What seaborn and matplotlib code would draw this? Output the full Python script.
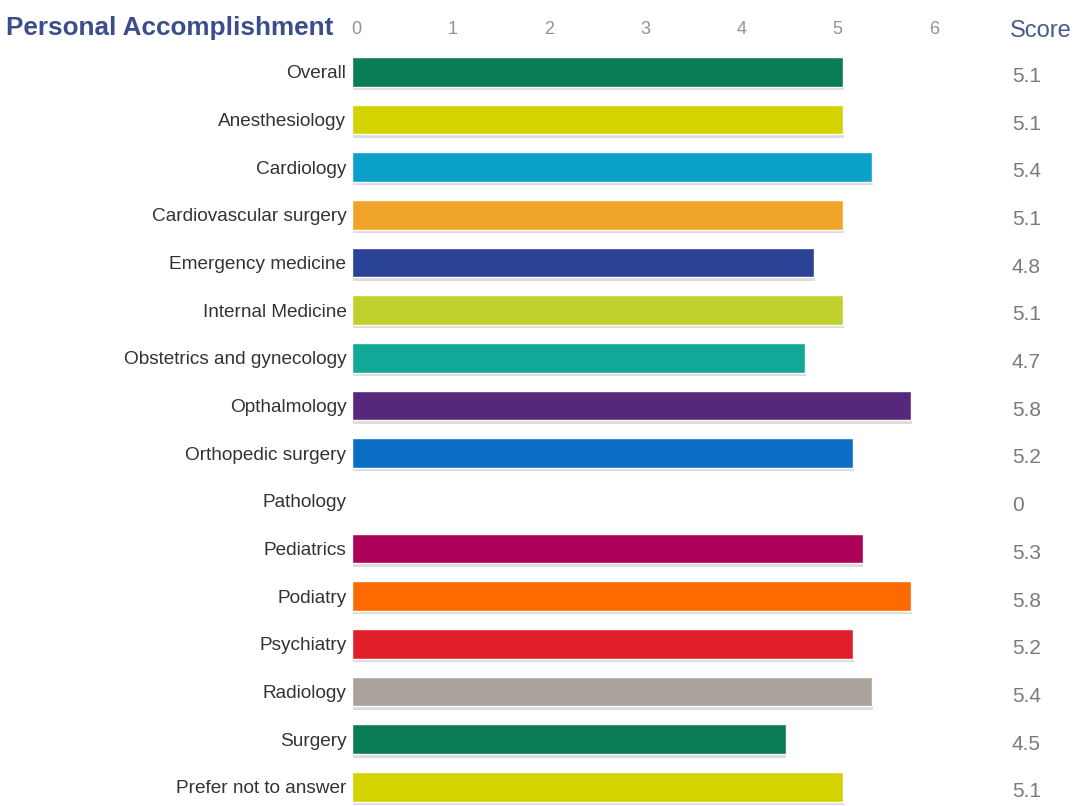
import matplotlib
matplotlib.use("Agg")
import matplotlib.pyplot as plt
import matplotlib.patheffects as pe
import matplotlib.transforms as mtransforms
import seaborn as sns
import pandas as pd

specialties = [
    "Overall", "Anesthesiology", "Cardiology", "Cardiovascular surgery",
    "Emergency medicine", "Internal Medicine", "Obstetrics and gynecology",
    "Opthalmology", "Orthopedic surgery", "Pathology", "Pediatrics",
    "Podiatry", "Psychiatry", "Radiology", "Surgery", "Prefer not to answer",
]
scores = [5.1, 5.1, 5.4, 5.1, 4.8, 5.1, 4.7, 5.8, 5.2, 0, 5.3, 5.8, 5.2, 5.4, 4.5, 5.1]
score_labels = ["5.1", "5.1", "5.4", "5.1", "4.8", "5.1", "4.7", "5.8", "5.2", "0",
                "5.3", "5.8", "5.2", "5.4", "4.5", "5.1"]
bar_colors = [
    "#0a7d57", "#d2d300", "#0aa0c8", "#f0a52a", "#2a4396", "#c0d12e",
    "#10a898", "#56287c", "#0a6fc4", "#ffffff", "#ad0059", "#ff6a00",
    "#e01f2a", "#aaa29b", "#0a7d57", "#d2d300",
]
x_ticks = [0, 1, 2, 3, 4, 5, 6]

sns.set_theme(style="white")
plt.rcParams["font.family"] = ["Liberation Sans", "DejaVu Sans"]

df = pd.DataFrame({"specialty": specialties, "score": scores})

fig = plt.figure(figsize=(10.87, 8.06), dpi=100)
ax = fig.add_axes([352 / 1087, 0.0, (959 - 352) / 1087, 1 - 48 / 806])

sns.barplot(data=df, y="specialty", x="score", hue="specialty", palette=bar_colors,
            order=specialties, hue_order=specialties, orient="h", width=0.62,
            legend=False, saturation=1, ax=ax)

# soft drop shadow under each bar
for patch in ax.patches:
    patch.set_path_effects([
        pe.SimplePatchShadow(offset=(0.5, -2.5), shadow_rgbFace="#777777", alpha=0.25),
        pe.Normal(),
    ])

ax.set_xlim(0, 6.3)
ax.set_ylim(len(specialties) - 0.6, -0.5)
ax.set_xticks(x_ticks)
ax.set_xticklabels([str(t) for t in x_ticks])
ax.xaxis.tick_top()
ax.tick_params(axis="x", length=0, pad=7, labelsize=13, labelcolor="#939393")
ax.tick_params(axis="y", length=0, pad=4, labelsize=13.7, labelcolor="#333333")
shift = mtransforms.ScaledTranslation(4 / 100, 0, fig.dpi_scale_trans)
for lbl in ax.get_xticklabels():
    lbl.set_transform(lbl.get_transform() + shift)
ax.set_xlabel("")
ax.set_ylabel("")
for s in ax.spines.values():
    s.set_visible(False)
ax.grid(False)

# Score column on the right
score_tr = mtransforms.blended_transform_factory(fig.transFigure, ax.transData)
for i, lab in enumerate(score_labels):
    ax.text(1012 / 1087, i + 0.1, lab, transform=score_tr,
            ha="left", va="center", fontsize=15, color="#7a7a7a")

fig.text(1010 / 1087, 1 - 31 / 806, "Score", ha="left", va="center",
         fontsize=17, color="#4a5a8c")
fig.text(6 / 1087, 1 - 28 / 806, "Personal Accomplishment", ha="left", va="center",
         fontsize=18.8, fontweight="bold", color="#3c4d8c")

fig.savefig("out.png", dpi=100, facecolor="white")
